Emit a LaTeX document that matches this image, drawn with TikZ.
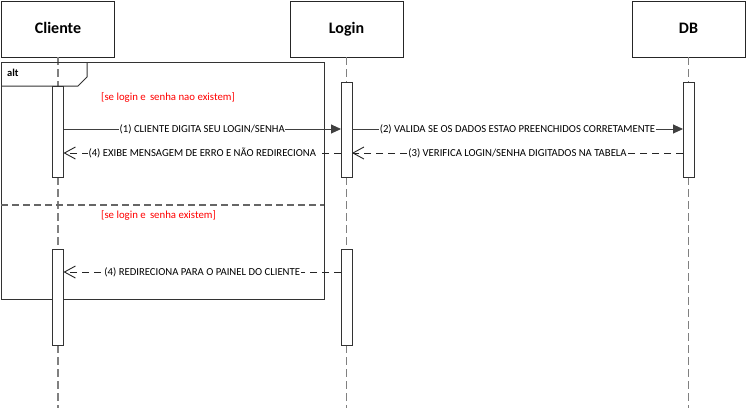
\documentclass[tikz,border=0pt]{standalone}
\usepackage{fontspec}
\setmainfont{Carlito}
\usetikzlibrary{arrows.meta}
\begin{document}
\begin{tikzpicture}[x=1pt,y=-1pt,
  actor/.style={draw=black!85,line width=1pt,fill=white,minimum width=113pt,minimum height=56pt,inner sep=0pt,outer sep=0pt,text height=11pt,text depth=3pt,font=\fontsize{16}{17}\selectfont\bfseries},
  lifeline/.style={draw=black!50,line width=1.5pt,dash pattern=on 8pt off 4pt},
  actbar/.style={draw=black!80,line width=1pt,fill=white,minimum width=11pt,inner sep=0pt,outer sep=0pt,anchor=north},
  frameline/.style={draw=black!80,line width=1pt},
  sepline/.style={draw=black!60,line width=1.6pt,dash pattern=on 7pt off 4pt},
  syncmsg/.style={draw=black!75,line width=0.9pt,-{Triangle[length=10pt,width=9pt]}},
  replymsg/.style={draw=black!85,line width=0.9pt,dash pattern=on 7pt off 5pt,-{Straight Barb[length=11pt,width=12pt,line width=0.9pt]}},
  msglabel/.style={fill=white,inner sep=0.6pt,text=black,font=\fontsize{10.7}{11}\selectfont},
  guard/.style={text=red,font=\fontsize{10.8}{11}\selectfont,inner sep=0pt,anchor=west},
  framelabel/.style={font=\fontsize{10.5}{11}\selectfont\bfseries,inner sep=0pt,anchor=west}
]
\useasboundingbox (0,0) rectangle (747,408);
\fill[white] (0,0) rectangle (747,408);

% actors
\node[actor] (cli) at (58,29) {Cliente};
\node[actor] (log) at (346.5,29) {Login};
\node[actor] (db) at (688.5,29) {DB};

% lifeline ends
\coordinate (cliend) at (58,408);
\coordinate (logend) at (346.5,408);
\coordinate (dbend) at (688.5,408);
\draw[lifeline] (cli.south) -- (cliend);
\draw[lifeline] (log.south) -- (logend);
\draw[lifeline] (db.south) -- (dbend);

% alt frame
\node[frameline,minimum width=323pt,minimum height=237pt,anchor=north west,inner sep=0pt,outer sep=0pt] (alt) at (1,62) {};
\draw[frameline] (alt.north west) ++(0,24) -- ++(77,0) -- ++(9,-9) -- ++(0,-15);
\node[framelabel] (altlbl) at (7,73) {alt};
\coordinate (sepL) at (1,205);
\coordinate (sepR) at (324,205);
\draw[sepline] (sepL) -- (sepR);
\node[guard] (g1) at (101,98) {[se login e\, senha nao existem]};
\node[guard] (g2) at (101,216) {[se login e\, senha existem]};

% activation bars
\node[actbar,minimum height=91pt] (cb1) at (58,86) {};
\node[actbar,minimum height=95pt] (lb1) at (346.5,82) {};
\node[actbar,minimum height=95pt] (db1) at (688.5,82) {};
\node[actbar,minimum height=96pt] (cb2) at (58,249) {};
\node[actbar,minimum height=96pt] (lb2) at (346.5,249) {};

% messages
\draw[syncmsg] (cb1.east |- 0,129) -- node[msglabel] {(1) CLIENTE DIGITA SEU LOGIN/SENHA} (lb1.west |- 0,129);
\draw[syncmsg] (lb1.east |- 0,129) -- node[msglabel] {(2) VALIDA SE OS DADOS ESTAO PREENCHIDOS CORRETAMENTE} (db1.west |- 0,129);
\draw[replymsg] (db1.west |- 0,153) -- node[msglabel] {(3) VERIFICA LOGIN/SENHA DIGITADOS NA TABELA} (lb1.east |- 0,153);
\draw[replymsg] (lb1.west |- 0,153) -- node[msglabel] {(4) EXIBE MENSAGEM DE ERRO E NÃO REDIRECIONA} (cb1.east |- 0,153);
\draw[replymsg] (lb2.west |- 0,272) -- node[msglabel] {(4) REDIRECIONA PARA O PAINEL DO CLIENTE} (cb2.east |- 0,272);
\end{tikzpicture}
\end{document}
